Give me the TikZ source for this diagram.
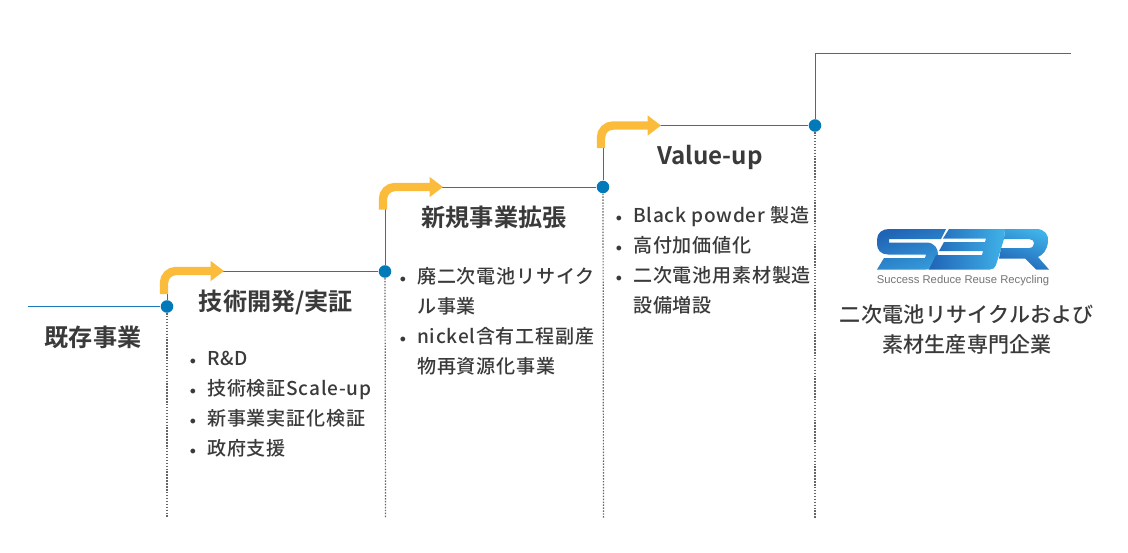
\documentclass[tikz,border=0pt]{standalone}
\usepackage{fontspec}
\setmainfont{Noto Sans CJK JP Medium}[BoldFont={Noto Sans CJK JP Bold}]
\setsansfont{Liberation Sans}
\usetikzlibrary{arrows.meta, positioning, calc}
\definecolor{stepblue}{HTML}{1A7AB5}
\definecolor{dotblue}{HTML}{0279B8}
\definecolor{bandyellow}{HTML}{FBBB3B}
\definecolor{inkgray}{HTML}{3A3A3A}
\definecolor{logodark}{HTML}{2064B6}
\definecolor{logolight}{HTML}{3FB2E8}
\newcommand{\bul}{\llap{\raisebox{0.6pt}{\small$\bullet$}\hspace{8.4pt}}}

\begin{document}
\begin{tikzpicture}[
        x=0.75pt,
        y=-0.75pt,
        % Styles
        stepline/.style={draw=stepblue, line width=0.75pt},
        dropline/.style={draw=black!60, line width=0.9pt, dash pattern=on 1.1pt off 1.1pt},
        stepdot/.style={circle, fill=dotblue, inner sep=0pt, minimum size=9.4pt},
        bandarrow/.style={draw=bandyellow, line width=6.3pt, rounded corners=9pt,
            -{Triangle[length=10pt, width=14.5pt, fill=bandyellow]}},
        heading/.style={text=inkgray, inner sep=0pt, font=\bfseries\fontsize{18.1}{20}\selectfont},
        listing/.style={text=inkgray, inner sep=0pt, anchor=north west, align=left,
            font=\fontsize{14.3}{22.5}\selectfont\addfontfeature{LetterSpace=4}},
        closing/.style={text=inkgray, inner sep=0pt, align=center,
            font=\fontsize{15.8}{22.5}\selectfont\addfontfeature{LetterSpace=1}},
        logotext/.style={text=black!55, inner sep=0pt, font=\sffamily\fontsize{8.45}{10}\selectfont}
      ]
      \useasboundingbox (0,0) rectangle (1128,553);

      % Step dots
      \node[stepdot] (dot1) at (167,306.5) {};
      \node[stepdot] (dot2) at (385,271.5) {};
      \node[stepdot] (dot3) at (603,187) {};
      \node[stepdot] (dot4) at (815,125.5) {};
      \coordinate (start) at (28,306.5);
      \coordinate (finish) at (1071,53.5);
      \coordinate (foot1) at (167,518);
      \coordinate (foot2) at (385.5,518);
      \coordinate (foot3) at (603.5,518);
      \coordinate (foot4) at (815,518);

      % Step lines
      \draw[stepline] (start) -- (dot1);
      \draw[stepline] (dot1) |- (dot2);
      \draw[stepline] (dot2) |- (dot3);
      \draw[stepline] (dot3) |- (dot4);
      \draw[stepline] (dot4) |- (finish);

      % Dotted drops
      \draw[dropline] (dot1) -- (foot1);
      \draw[dropline] (dot2) -- (foot2);
      \draw[dropline] (dot3) -- (foot3);
      \draw[dropline] (dot4) -- (foot4);

      % Yellow arrows
      \draw[bandarrow] (164,294) -- (164,271) -- (224,271);
      \draw[bandarrow] (383,209.5) -- (383,187) -- (443,187);
      \draw[bandarrow] (601,148) -- (601,125.5) -- (661,125.5);

      % Headings
      \node[heading] (stage0) at (93,337) {既存事業};
      \node[heading] (stage1) at (276,302) {技術開発/実証};
      \node[heading] (stage2) at (494,217) {新規事業拡張};
      \node[heading] (stage3) at (710,157) {Value-up};

      % Lists
      \node[listing] (list1) at (207,351) {\bul R\&D\\ \bul 技術検証Scale-up\\ \bul 新事業実証化検証\\ \bul 政府支援};
      \node[listing] (list2) at (417,267) {\bul 廃二次電池リサイク\\ ル事業\\ \bul nickel含有工程副産\\ 物再資源化事業};
      \node[listing] (list3) at (633,206) {\bul Black powder 製造\\ \bul 高付加価値化\\ \bul 二次電池用素材製造\\ 設備増設};

      % Logo
      \shade[left color=logodark, right color=logolight!70!logodark, shading angle=20]
        (889,229) -- (946,229) -- (941,239) -- (889,239) -- (889,242.5) -- (926,242.5)
        .. controls (935,242.5) and (938,249) .. (938,254) -- (938,260)
        .. controls (938,266) and (934,269.5) .. (926,269.5) -- (877,269.5) -- (884,258)
        -- (925,258) -- (926,254.5) -- (888,254.5)
        .. controls (881,254.5) and (877,250) .. (877,244) -- (877,240)
        .. controls (877,233) and (882,229) .. (889,229) -- cycle;
      \shade[left color=logodark, right color=logolight]
        (949,229) -- (1005,229) -- (1004,239) -- (996,265)
        .. controls (995,268) and (993,269.5) .. (990,269.5) -- (929,269.5) -- (936,255)
        -- (982,255) -- (983,251) -- (939,251) -- (944,242) -- (985,242)
        -- (986,238.5) -- (943,238.5) -- cycle;
      \shade[top color=logolight, bottom color=logodark, shading angle=-20]
        (1005,229) -- (1036,229)
        .. controls (1045,229) and (1049,235) .. (1048,242)
        .. controls (1047,250) and (1043,255) .. (1038,257)
        -- (1049,269.5) -- (1036,269.5) -- (1025,258.5) -- (999,258.5) -- (1001,248) -- (1029,248)
        .. controls (1033,248) and (1034,245) .. (1034,243)
        .. controls (1034,241) and (1032,239) .. (1029,239) -- (1004,239) -- cycle;
      \node[logotext] (logoname) at (963,281) {Success Reduce Reuse Recycling};

      % Closing text
      \node[closing] (closing) at (967,330) {二次電池リサイクルおよび\\ 素材生産専門企業};
    \end{tikzpicture}
\end{document}
